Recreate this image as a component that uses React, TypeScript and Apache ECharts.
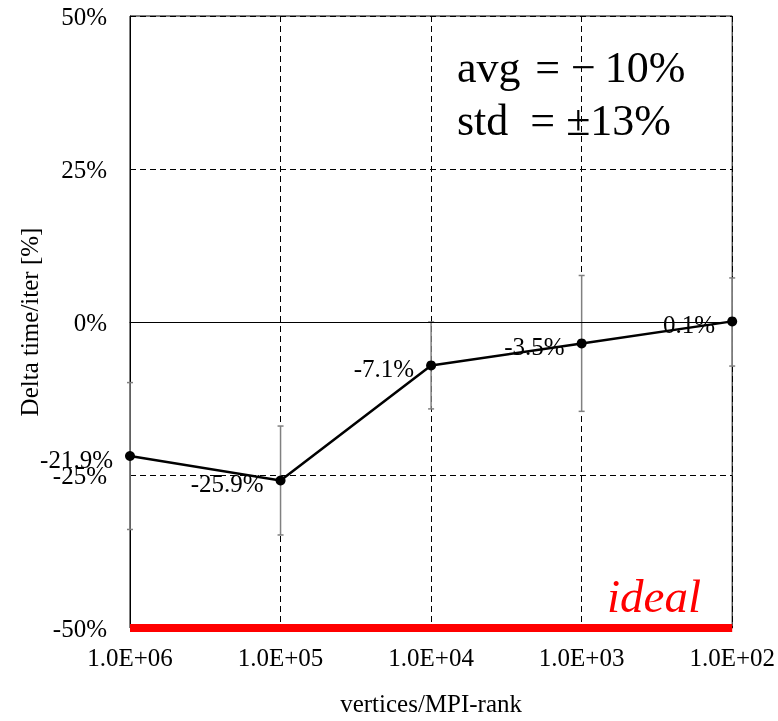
import React, { useEffect, useRef } from "react";
import * as echarts from "echarts";

const categories = ["1.0E+06", "1.0E+05", "1.0E+04", "1.0E+03", "1.0E+02"];
const deltaValues = [-21.9, -25.9, -7.1, -3.5, 0.1];
const errorLow = [-33.9, -34.8, -14.2, -14.6, -7.2];
const errorHigh = [-9.9, -17.0, 0.0, 7.6, 7.2];
const idealValues = [-50, -50, -50, -50, -50];
const yTicks = { min: -50, max: 50, interval: 25 };
const statsLines = ["avg \u200A= \u2212\u200910%", "std  = \u00b113%"];
const FONT = "Liberation Serif";

export default function App() {
  const ref = useRef<HTMLDivElement>(null);
  useEffect(() => {
    if (!ref.current) return;
    const chart = echarts.init(ref.current, null, { renderer: "svg" });
    const errData = categories.map((_, i) => [i, errorLow[i], errorHigh[i]]);
    chart.setOption({
      animation: false,
      textStyle: { fontFamily: FONT },
      grid: {
        left: 130,
        right: 42,
        top: 16,
        bottom: 90,
        show: true,
        borderColor: "#000",
        borderWidth: 1,
        backgroundColor: "transparent",
      },
      xAxis: {
        type: "category",
        data: categories,
        boundaryGap: false,
        axisLine: { lineStyle: { color: "#000", width: 1 } },
        axisTick: { show: false },
        axisLabel: { color: "#000", fontSize: 25, fontFamily: FONT, margin: 17 },
        splitLine: { show: true, lineStyle: { color: "#000", type: [6, 4], width: 1 } },
        name: "vertices/MPI-rank",
        nameLocation: "middle",
        nameGap: 63,
        nameTextStyle: { color: "#000", fontSize: 25, fontFamily: FONT },
      },
      yAxis: {
        type: "value",
        min: yTicks.min,
        max: yTicks.max,
        interval: yTicks.interval,
        axisLine: { show: true, lineStyle: { color: "#000", width: 1 } },
        axisTick: { show: false },
        axisLabel: {
          color: "#000",
          fontSize: 25,
          fontFamily: FONT,
          margin: 23,
          formatter: "{value}%",
        },
        splitLine: { show: true, lineStyle: { color: "#000", type: [6, 4], width: 1 } },
        name: "Delta time/iter [%]",
        nameLocation: "middle",
        nameGap: 88,
        nameTextStyle: { color: "#000", fontSize: 25, fontFamily: FONT },
      },
      series: [
        {
          type: "line",
          data: idealValues,
          symbol: "none",
          clip: false,
          z: 1,
          lineStyle: { color: "#ff0000", width: 8 },
          silent: true,
        },
        {
          type: "custom",
          data: errData,
          encode: { x: 0, y: [1, 2] },
          z: 2,
          renderItem: (params: any, api: any) => {
            const i = api.value(0);
            const lo = api.coord([i, api.value(1)]);
            const hi = api.coord([i, api.value(2)]);
            const cap = 3;
            const style = { stroke: "#808080", lineWidth: 1.5 };
            return {
              type: "group",
              children: [
                { type: "line", shape: { x1: lo[0], y1: lo[1], x2: hi[0], y2: hi[1] }, style },
                { type: "line", shape: { x1: lo[0] - cap, y1: lo[1], x2: lo[0] + cap, y2: lo[1] }, style },
                { type: "line", shape: { x1: hi[0] - cap, y1: hi[1], x2: hi[0] + cap, y2: hi[1] }, style },
              ],
            };
          },
        },
        {
          type: "line",
          data: deltaValues,
          z: 3,
          symbol: "circle",
          symbolSize: 10,
          itemStyle: { color: "#000" },
          lineStyle: { color: "#000", width: 2.5 },
          label: {
            show: true,
            position: "left",
            distance: 12,
            offset: [0, 3],
            color: "#000",
            fontSize: 25,
            fontFamily: FONT,
            formatter: (p: any) => p.value.toFixed(1) + "%",
          },
          markLine: {
            silent: true,
            symbol: "none",
            label: { show: false },
            lineStyle: { color: "#000", type: "solid", width: 1 },
            data: [{ yAxis: 0 }],
          },
        },
      ],
      graphic: [
        {
          type: "text",
          left: 457,
          top: 45,
          style: { text: statsLines[0], fontSize: 44, fontFamily: FONT, fill: "#000" },
        },
        {
          type: "text",
          left: 457,
          top: 98,
          style: { text: statsLines[1], fontSize: 44, fontFamily: FONT, fill: "#000" },
        },
        {
          type: "text",
          left: 607,
          top: 572,
          style: { text: "ideal", fontSize: 47, fontStyle: "italic", fontFamily: FONT, fill: "#ff0000" },
        },
      ],
    });
    return () => chart.dispose();
  }, []);
  return (
    <div
      ref={ref}
      style={{ position: "fixed", left: 0, top: 0, width: 778, height: 721 }}
    />
  );
}
